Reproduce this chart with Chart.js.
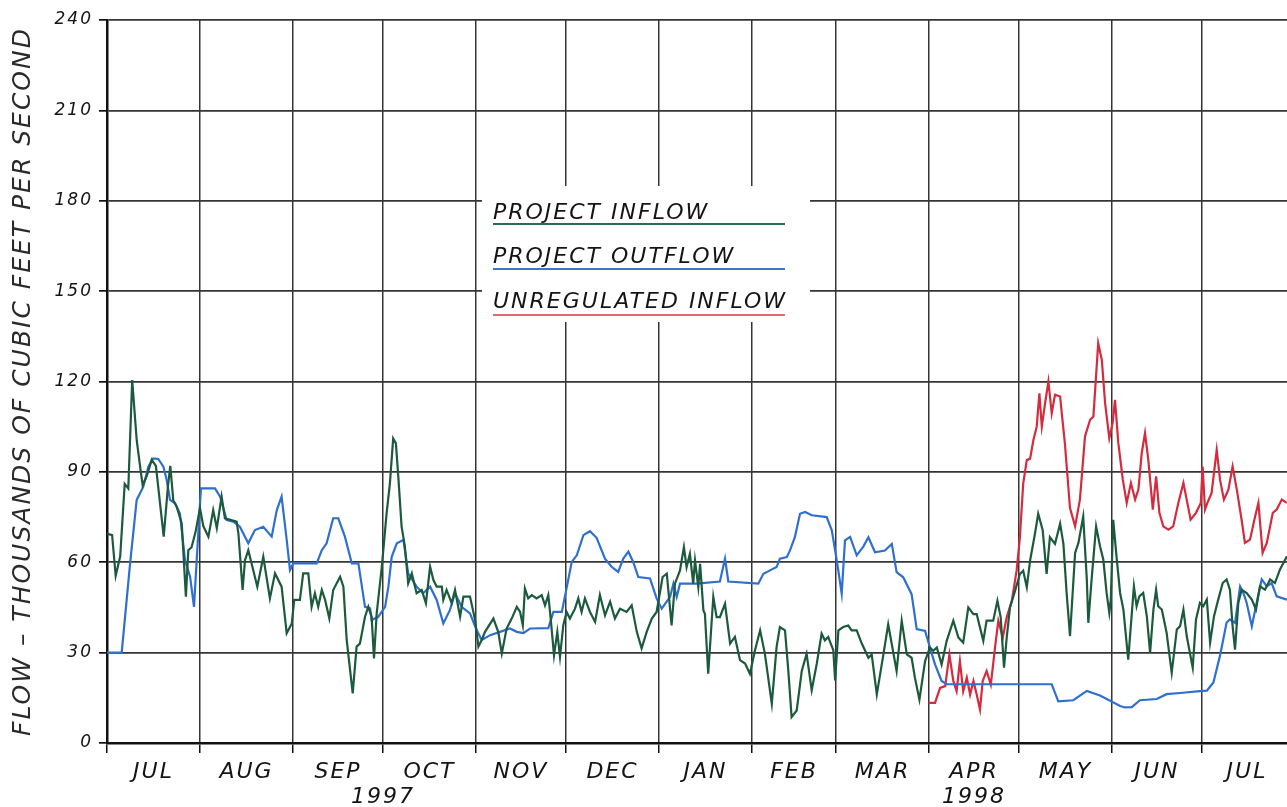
<!DOCTYPE html>
<html>
<head>
<meta charset="utf-8">
<title>Project Inflow and Outflow, 1997-1998</title>
<script src="https://cdn.jsdelivr.net/npm/chart.js@4.4.1/dist/chart.umd.min.js"></script>
<style>
  html, body { margin: 0; padding: 0; background: #ffffff; }
  #wrap { position: relative; width: 1287px; height: 807px; }
</style>
</head>
<body>
<div id="wrap"><canvas id="flow"></canvas></div>
<script>
// Calendar: days counted from 1 July 1997
const monthLabels = ['JUL', 'AUG', 'SEP', 'OCT', 'NOV', 'DEC', 'JAN', 'FEB', 'MAR', 'APR', 'MAY', 'JUN', 'JUL'];
const monthStartDays = [0, 31, 62, 92, 123, 153, 184, 215, 243, 274, 304, 335, 365];
const monthMidDays = [15.5, 46.5, 77, 107.5, 138, 168.5, 199.5, 229, 258.5, 289, 319.5, 350, 380];
const yearLabels = ['1997', '1998'];
const yearDays = [92, 289];
const lastDay = 393.33;

// Flow, thousands of cubic feet per second
const flowTicks = [0, 30, 60, 90, 120, 150, 180, 210, 240];

const inflowDays = [
  0, 1.7, 2.9, 4.4, 5.9, 7.1, 8.4, 9.9, 11.2, 11.9, 13.2, 14.9, 16.3, 18.9, 20.3, 21.1, 22.1, 23.2, 24.9, 26.3,
  27.1, 28.2, 29.5, 31, 32.1, 33.8, 35.4, 36.6, 38.2, 39.3, 41.4, 43.2, 43.8, 45.2, 46, 47.1, 48.2, 50.1, 52.1, 54.3,
  56, 58.2, 59.9, 61.6, 62.4, 64.3, 65.4, 67.1, 68.2, 69.3, 70.4, 71.6, 72.7, 74.1, 75.4, 77.7, 78.8, 79.9, 81.9, 83.2,
  84.3, 86, 87.1, 88.2, 89, 89.9, 91.6, 93.2, 94.3, 95.4, 96.3, 97.1, 98.2, 99.3, 100.4, 101.6, 103.2, 104.9, 106.3, 107.7,
  108.8, 109.9, 111.6, 112.1, 113.2, 114.9, 116, 117.7, 118.8, 121, 122.7, 123.8, 124.9, 126, 128.8, 130.4, 131.6, 133.2, 134.9, 136.6,
  137.7, 138.6, 139.3, 140.4, 141.6, 143.2, 144.9, 146, 147.1, 147.9, 149, 150.1, 151, 152.1, 153.2, 154.3, 156, 157.1, 158.2, 159.3,
  161, 162.7, 164.3, 166, 167.7, 169.3, 171, 173.2, 174.9, 176.6, 178.2, 179.9, 181.6, 183.2, 185.2, 186.6, 188.2, 189.3, 191, 192.3,
  193.2, 194.3, 195.4, 196, 197.1, 197.7, 198.8, 199.3, 200.4, 202.1, 203.2, 204.3, 206, 207.7, 209.3, 211, 212.7, 214.3, 216, 217.7,
  219.3, 221.6, 223.2, 224.3, 226, 227.1, 228.2, 229.9, 231.6, 233.2, 234.9, 236.6, 238.2, 239.3, 240.4, 242.1, 242.7, 243.8, 245.4, 247.1,
  248.2, 249.9, 251.6, 253.8, 254.9, 256.6, 258.8, 260.4, 261.6, 263.2, 264.9, 266.6, 268.2, 269.3, 270.8, 272.7, 274.3, 275.4, 276.6, 278.2,
  279.9, 282.1, 283.8, 285.4, 287.1, 288.8, 289.9, 291, 292.1, 293.2, 295.4, 296.8, 297.9, 299, 299.9, 301, 302.7, 304.3, 305.4, 306.6,
  307.7, 309.3, 310.4, 311.9, 313.2, 314.3, 316, 317.7, 318.8, 319.9, 321, 322.7, 323.8, 325.4, 326.6, 327.1, 328.2, 329.7, 331, 332.1,
  333.2, 334.1, 334.6, 335.4, 336.6, 337.7, 338.8, 340.4, 342.3, 343.2, 344.1, 345.4, 346.6, 347.7, 348.8, 349.7, 350.4, 351.6, 353.2, 354.9,
  356.6, 357.7, 358.8, 359.9, 361.9, 363, 364.3, 365.4, 366.6, 367.7, 369, 370.4, 371.9, 373.2, 374.3, 375.2, 376, 377.1, 378.2, 379.9,
  381.6, 383, 384.3, 386, 387.7, 389.3, 391, 393.3
];
const inflowFlow = [
  69.5, 69, 55.5, 62, 86, 84.5, 120.5, 100.5, 90.5, 85.5, 88.5, 94, 92, 68.5, 85, 92, 80.5, 78.5, 73, 48.6,
  64, 65, 70, 78, 72, 68.5, 77.3, 71.3, 81.8, 74.6, 74, 73.5, 69.6, 50.8, 60.7, 64, 59.6, 51.9, 61.8, 48,
  56.3, 51.9, 36.4, 39.7, 47.5, 47.5, 56.3, 56.3, 45.2, 49.7, 45.2, 50.8, 47.5, 41.4, 50.8, 55.2, 51.9, 34.2, 16.5, 32,
  33, 41.9, 45.2, 41.9, 28.1, 43, 58.5, 76.2, 86.2, 101.1, 99.5, 88.4, 71.8, 65.2, 53, 56.3, 49.7, 50.8, 46.4, 58.5,
  54.1, 51.9, 51.9, 47.5, 50.8, 46.4, 50.8, 41.9, 48.6, 48.6, 40.8, 32, 34.2, 36.9, 41.3, 36.9, 29.7, 38, 41.3, 45.2,
  43.5, 39.1, 51.3, 48, 49.1, 48, 49.1, 45.7, 49.1, 41.3, 29.1, 36.9, 28.6, 39.1, 43.5, 41.3, 44.6, 48, 43.5, 48,
  43.5, 40.2, 49.1, 42.4, 46.9, 41.3, 44.6, 43.5, 45.7, 36.9, 31.4, 36.9, 41.3, 43.5, 55.1, 56.2, 39, 52.9, 57.3, 65,
  58.4, 62.8, 52.9, 60.6, 51.8, 59.5, 44, 42.9, 23, 48.5, 41.8, 41.8, 46.2, 33, 35.2, 27.5, 26.4, 23, 30.8, 37.4,
  29.6, 13, 31.9, 38.5, 37.4, 24, 8.6, 10.8, 24, 29.6, 17.5, 26.4, 36.3, 34.1, 35.2, 30.8, 20.8, 37.4, 38.5, 39,
  37.4, 37.4, 33, 28.3, 29.4, 16.1, 29.4, 39.4, 32.8, 23.9, 40.6, 29.4, 28.3, 21.7, 14.4, 27.2, 31.7, 30.6, 31.7, 26.1,
  33.9, 40.6, 35, 33.3, 45, 42.8, 42.8, 38.3, 33.9, 40.6, 40.6, 47.2, 41.7, 25, 35, 45, 50.6, 56.1, 57.2, 51.7,
  60.6, 69.4, 76.1, 70.6, 56.1, 68.3, 66.1, 72.8, 66.1, 49.4, 35.5, 63.1, 66.4, 75.2, 54.3, 39.9, 54.3, 71.9, 65.3, 60.9,
  49.8, 43.2, 47.6, 74.1, 60.9, 49.8, 44.3, 27.7, 52, 45.4, 48.7, 49.8, 42.1, 29.9, 44.3, 50.9, 45.4, 44.3, 36.6, 23.3,
  37.7, 38.8, 44.3, 35.5, 25, 41, 46.5, 45.4, 47.6, 33.3, 42.1, 47.6, 53.1, 54.3, 50.9, 38.8, 31, 46.5, 50.9, 49.8,
  47.6, 44.3, 52, 50.9, 54.3, 53.1, 57.6, 62
];

const outflowDays = [
  0, 4.9, 7.7, 9.9, 12.1, 13.8, 15.4, 17.1, 18.8, 19.9, 21, 22.7, 24.3, 26, 27.7, 29, 29.9, 31.3, 36, 37.7,
  39.9, 42.1, 44.3, 47.1, 49.3, 52.1, 54.9, 56.6, 58.2, 59.9, 61, 62.1, 69.9, 71.6, 73.2, 75.4, 77.1, 79.3, 81.6, 83.8,
  86, 87.7, 88.2, 90.4, 92.7, 93.8, 94.9, 96.6, 98.8, 100.4, 103.2, 105.4, 107.7, 109.9, 112.1, 114.3, 116, 118.2, 121, 123.2,
  124.9, 127.7, 131, 134.3, 136.6, 138.8, 141, 147.1, 148.8, 151.6, 153.4, 154.9, 156.6, 158.8, 161, 163.2, 166, 168.2, 170.4, 172.1,
  173.8, 175.4, 177.1, 181, 183.2, 184.9, 187.7, 188.8, 189.9, 191, 196.6, 204.3, 206, 207.1, 217.1, 218.8, 221, 223.2, 224.3, 226.6,
  227.7, 229.3, 231, 232.7, 234.9, 239.9, 241.6, 242.7, 243.6, 244.9, 246, 247.7, 249.9, 252.1, 253.8, 256, 259.3, 261.6, 263.2, 265.4,
  268.2, 269.9, 272.7, 274.3, 276, 278.2, 279.9, 314.9, 317.1, 322.1, 326.6, 331, 337.7, 339.3, 341.6, 344.3, 349.9, 353.2, 357.7, 364.3,
  366.6, 368.8, 371, 373.2, 374.3, 376, 377.7, 378.8, 379.9, 381.6, 383.2, 384.9, 386.6, 388.2, 389.9, 393.3
];
const outflowFlow = [
  30, 30, 59.6, 80.7, 85.1, 91.7, 94.5, 94.3, 91.7, 87.3, 80.7, 79.6, 76.2, 60.7, 55.2, 45.2, 60.7, 84.5, 84.5, 81.8,
  74, 73.5, 71.8, 66.3, 70.7, 71.8, 68.5, 77.3, 81.8, 67.4, 57.4, 59.6, 59.6, 64, 66.3, 74.6, 74.6, 68.5, 59.6, 59.6,
  45.2, 44.7, 40.8, 41.9, 45.2, 51.9, 61.8, 66.3, 67.4, 56.3, 51.9, 49.7, 51.9, 47.5, 39.7, 44.1, 49.7, 45.2, 43, 37.5,
  34.2, 35.8, 36.9, 38, 36.9, 36.5, 38, 38.1, 43.5, 43.5, 52.4, 60.1, 62.3, 69, 70.3, 68.1, 61.2, 58.5, 56.8, 61.2,
  63.5, 60.1, 55.1, 54.6, 48, 44.6, 48.5, 52.9, 48.5, 52.9, 52.9, 53.6, 61.2, 53.6, 52.9, 56.2, 57.3, 58.4, 61.2, 61.7,
  64, 68.4, 76.1, 76.7, 75.6, 75, 70.6, 64, 58.4, 49.6, 67.3, 68.4, 62.3, 65.2, 68.3, 63.3, 63.9, 66.1, 56.7, 55,
  49.4, 37.8, 37.2, 31.7, 26.1, 20.6, 19.5, 19.5, 13.8, 14.2, 17.3, 15.8, 12.3, 11.8, 11.9, 14.2, 14.6, 16.2, 16.6, 17.2,
  17.4, 20.1, 29, 40, 41, 39.9, 52, 49.8, 46.5, 38.8, 46.5, 54.3, 52, 53.1, 48.7, 47.6
];

const unregDays = [
  273.8, 276, 277.7, 279.4, 280.8, 282.1, 283.2, 284.3, 285.4, 286.6, 287.7, 288.8, 289.9, 291, 291.9, 293.2, 294.6, 296, 297.1, 298.6,
  299.9, 301.6, 303.2, 304.3, 305.4, 306.6, 307.7, 308.8, 309.9, 310.8, 311.6, 312.7, 313.8, 314.9, 316, 317.7, 319.3, 321, 322.7, 324.3,
  326, 327.7, 328.8, 330.4, 331.6, 332.7, 334.1, 335.2, 336, 337.1, 338.6, 339.9, 341.3, 342.7, 343.8, 344.9, 346, 347.1, 348.6, 349.7,
  350.8, 352.1, 353.8, 355.4, 357.1, 358.8, 359.9, 361.2, 363, 364.6, 365.2, 366, 366.8, 368.2, 369.9, 371, 372.3, 373.8, 375.2, 376.6,
  378.2, 379.3, 381, 382.7, 383.8, 385.2, 386.6, 388.6, 389.9, 391.6, 393.3
];
const unregFlow = [
  13.3, 13.3, 18.3, 18.9, 29.4, 20.6, 17.2, 27.2, 17.2, 21.7, 16.1, 20.6, 16.1, 11.1, 20.6, 23.9, 19.4, 31.7, 40.6, 35,
  41.7, 47.2, 57.2, 68.3, 86.1, 93.9, 94.4, 100.6, 105, 116.1, 105, 112.8, 120, 109.4, 115.6, 115, 99.4, 78, 71.9, 80.8,
  101.8, 107.3, 108.4, 132.7, 127.2, 112.8, 101.2, 106.2, 113.9, 99.6, 87.4, 79.7, 86.3, 80.8, 84.1, 96.2, 102.9, 94, 77.5, 88.5,
  76.4, 71.9, 70.8, 71.9, 79.7, 86.3, 80.8, 74.1, 76.4, 79.7, 91.8, 77.5, 79.7, 83, 97.3, 87.4, 80.8, 84.1, 91.8, 84.1,
  74.1, 66.4, 67.5, 75.2, 79.7, 63.1, 66.4, 76.4, 77.5, 80.8, 79.7
];

const seriesNames = ['PROJECT INFLOW', 'PROJECT OUTFLOW', 'UNREGULATED INFLOW'];
const seriesColors = ['#1b5a3d', '#2f6fcf', '#d42b3e'];
const keyColors = ['#2d6b50', '#3c76c4', '#de6a74'];

const toPoints = (days, flow) => days.map((d, i) => ({ x: d, y: flow[i] }));

const FONT = 'DejaVu Sans';
const INK = '#141414';
const GRID = '#353535';

const xTickDays = monthStartDays.concat(monthMidDays).sort((a, b) => a - b);
const isMid = v => monthMidDays.includes(v);

// White key panel with underlined series names, drawn under the data lines
const keyPanel = {
  id: 'keyPanel',
  beforeDatasetsDraw(chart) {
    const ctx = chart.ctx;
    ctx.save();
    ctx.fillStyle = '#ffffff';
    ctx.fillRect(482, 186, 328, 136);
    ctx.font = 'italic 22px "' + FONT + '"';
    ctx.letterSpacing = '2px';
    ctx.textAlign = 'left';
    ctx.textBaseline = 'alphabetic';
    const rows = [219, 263, 308];
    const lines = [224, 269, 315];
    seriesNames.forEach((name, i) => {
      ctx.fillStyle = INK;
      ctx.fillText(name, 493, rows[i]);
      ctx.strokeStyle = keyColors[i];
      ctx.lineWidth = 2;
      ctx.beginPath();
      ctx.moveTo(493, lines[i]);
      ctx.lineTo(785, lines[i]);
      ctx.stroke();
    });
    ctx.restore();
  }
};

// Year captions below the month names
const yearCaptions = {
  id: 'yearCaptions',
  afterDraw(chart) {
    const ctx = chart.ctx;
    const xs = chart.scales.x;
    ctx.save();
    ctx.font = 'italic 22px "' + FONT + '"';
    ctx.letterSpacing = '2px';
    ctx.fillStyle = INK;
    ctx.textAlign = 'center';
    ctx.textBaseline = 'alphabetic';
    yearLabels.forEach((label, i) => {
      ctx.fillText(label, xs.getPixelForValue(yearDays[i]), 803);
    });
    ctx.restore();
  }
};

// Wider lettering for the axis text
const lettering = {
  id: 'lettering',
  beforeDraw(chart) { chart.ctx.letterSpacing = '2px'; }
};

new Chart(document.getElementById('flow'), {
  type: 'line',
  data: {
    datasets: [
      { label: seriesNames[0], data: toPoints(inflowDays, inflowFlow), borderColor: seriesColors[0] },
      { label: seriesNames[1], data: toPoints(outflowDays, outflowFlow), borderColor: seriesColors[1] },
      { label: seriesNames[2], data: toPoints(unregDays, unregFlow), borderColor: seriesColors[2] }
    ]
  },
  options: {
    responsive: true,
    maintainAspectRatio: false,
    devicePixelRatio: 1,
    animation: false,
    parsing: false,
    layout: { padding: { left: 0, right: 0, top: 20, bottom: 0 } },
    elements: {
      line: { borderWidth: 2.2, tension: 0, fill: false },
      point: { radius: 0, hoverRadius: 0 }
    },
    plugins: {
      legend: { display: false },
      tooltip: { enabled: false },
      title: { display: false }
    },
    scales: {
      x: {
        type: 'linear',
        min: 0,
        max: lastDay,
        afterBuildTicks: scale => { scale.ticks = xTickDays.map(v => ({ value: v })); },
        afterFit: scale => { scale.height = 64; },
        grid: {
          color: c => (c.tick && isMid(c.tick.value)) ? 'rgba(0,0,0,0)' : GRID,
          tickColor: c => (c.tick && isMid(c.tick.value)) ? 'rgba(0,0,0,0)' : '#111111',
          lineWidth: 1.5,
          tickLength: 10
        },
        border: { display: true, color: '#111111', width: 2.5 },
        ticks: {
          autoSkip: false,
          maxRotation: 0,
          padding: 6,
          color: INK,
          font: { family: FONT, size: 22, style: 'italic' },
          callback: v => { const k = monthMidDays.indexOf(v); return k >= 0 ? monthLabels[k] : ''; }
        }
      },
      y: {
        type: 'linear',
        min: 0,
        max: 240,
        afterBuildTicks: scale => { scale.ticks = flowTicks.map(v => ({ value: v })); },
        afterFit: scale => { scale.width = 107; },
        grid: { color: GRID, tickColor: '#111111', lineWidth: 1.7, tickLength: 8 },
        border: { display: true, color: '#111111', width: 2.5 },
        ticks: {
          padding: 6,
          color: INK,
          font: { family: FONT, size: 17, style: 'italic' }
        },
        title: {
          display: true,
          text: 'FLOW \u2013 THOUSANDS OF CUBIC FEET PER SECOND',
          color: '#2a2a2a',
          font: { family: FONT, size: 25, style: 'italic' },
          padding: { top: 8, bottom: 0 }
        }
      }
    }
  },
  plugins: [lettering, keyPanel, yearCaptions]
});
</script>
</body>
</html>
